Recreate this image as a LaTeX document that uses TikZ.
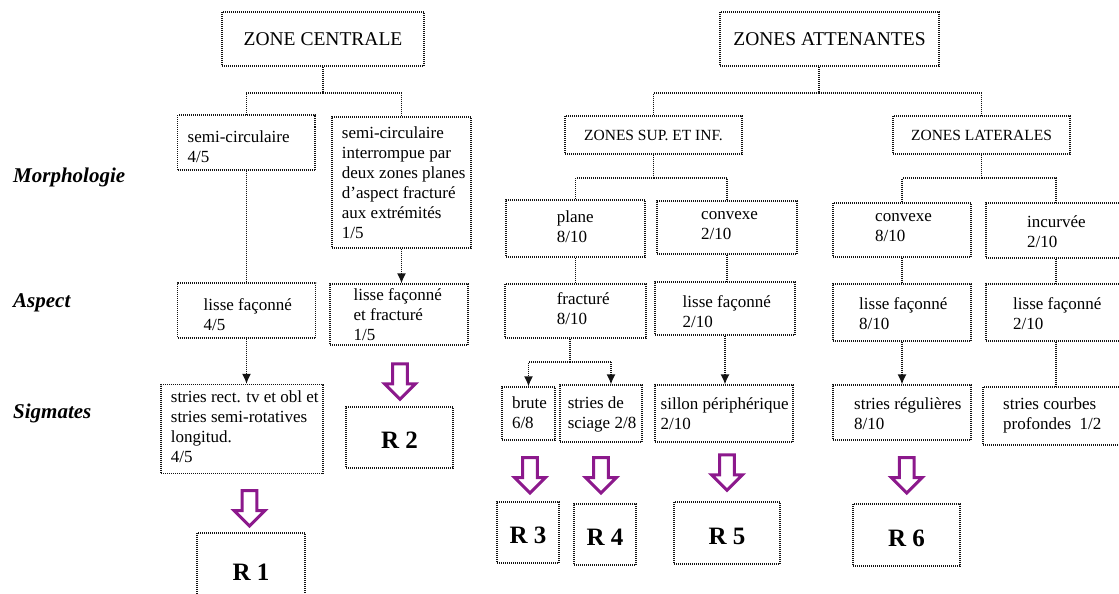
\documentclass[tikz,border=0pt]{standalone}
\usepackage{fontspec}
\setmainfont{Liberation Serif}
\usetikzlibrary{arrows.meta}
\definecolor{ln}{RGB}{20,20,20}
\definecolor{purp}{RGB}{140,25,140}
\newcommand\bx[7][]{\node[box,minimum width={#5-#3},minimum height={#6-#4},#1] (#2) at ({(#3+#5)/2},{(#4+#6)/2}) {#7};}
\begin{document}
\begin{tikzpicture}[x=1pt,y=-1pt,
  box/.style={draw=ln,line width=1.3pt,dash pattern=on 1pt off 1pt,inner sep=0pt},
  txt/.style={inner sep=0pt,anchor=north west,align=left,font=\fontsize{17}{20}\selectfont,execute at begin node={\rule{0pt}{12pt}}},
  hd/.style={font=\fontsize{19.5}{23}\selectfont},
  hds/.style={font=\fontsize{15.5}{19}\selectfont},
  rl/.style={font=\fontsize{25}{30}\selectfont\bfseries,text height=22pt,text depth=0pt},
  lab/.style={inner sep=0pt,anchor=west,font=\fontsize{21}{25}\selectfont\bfseries\itshape},
  conn/.style={draw=ln,line width=1.3pt,dash pattern=on 1pt off 1pt},
  arr/.style={conn,-{Latex[length=10pt,width=9pt]}},
  barrow/.pic={\draw[draw=purp,line width=3pt,fill=white,line join=miter]
     (-7.3,1.5) -- (7.3,1.5) -- (7.3,21.5) -- (15.5,21.5) -- (0,37) -- (-15.5,21.5) -- (-7.3,21.5) -- cycle;}
]
\useasboundingbox (0,0) rectangle (1119,594);
\fill[white] (0,0) rectangle (1119,594);
\clip (0,0) rectangle (1119,594);

% row labels
\node[lab] (morph) at (13,177) {Morphologie};
\node[lab] (asp) at (13,303) {Aspect};
\node[lab] (sig) at (13,413) {Sigmates};

% zone centrale
\bx[hd]{zc}{222}{12}{424}{66}{ZONE CENTRALE}
\bx{sc}{177.5}{115}{315}{170}{}
\bx{sc2}{332}{117}{471}{248}{}
\bx{l45}{177.5}{283}{315.5}{338}{}
\bx{lf}{330}{284}{468}{345}{}
\bx{stries}{161}{384.5}{323}{473.5}{}
\bx[rl]{r1}{197}{533}{305}{605}{R 1}
\bx[rl]{r2}{346}{407}{453}{468}{R 2}

\node[txt] (tsc) at (187.5,131) {semi-circulaire\\4/5};
\node[txt] (tsc2) at (341.7,127) {semi-circulaire\\interrompue par\\deux zones planes\\d'aspect fracturé\\aux extrémités\\1/5};
\node[txt] (tl45) at (203.5,298) {lisse façonné\\4/5};
\node[txt] (tlf) at (353.4,288) {lisse façonné\\et fracturé\\1/5};
\node[txt] (tstries) at (170.7,390.5) {stries rect. tv et obl et\\stries semi-rotatives\\longitud.\\4/5};

% zones attenantes
\bx[hd]{za}{720}{12}{939}{66}{ZONES ATTENANTES}
\bx[hds]{zsup}{565}{116}{742}{154}{ZONES SUP. ET INF.}
\bx[hds]{zlat}{893}{116}{1070}{154}{ZONES LATERALES}
\bx{plane}{506}{200}{645}{257}{}
\bx{conv}{657}{201}{797}{254}{}
\bx{frac}{505}{284}{646}{338}{}
\bx{l210}{655}{282}{795}{335}{}
\bx{convl}{833}{203}{971}{257}{}
\bx{incu}{986}{203}{1126}{258}{}
\bx{l810}{833}{284}{971}{341}{}
\bx{l210b}{986}{284}{1126}{341}{}
\bx{brute}{502}{387}{555}{440}{}
\bx{sciage}{560}{385}{642}{442}{}
\bx{sillon}{655}{385}{793}{442}{}
\bx{sreg}{833}{385}{971}{440}{}
\bx{scourbes}{983}{387}{1129}{445}{}
\bx[rl]{r3}{497}{502}{559}{563}{R 3}
\bx[rl]{r4}{574}{504}{636}{565}{R 4}
\bx[rl]{r5}{674}{502}{780}{564}{R 5}
\bx[rl]{r6}{853}{504}{960}{566}{R 6}

\node[txt] (tplane) at (556.6,211) {plane\\8/10};
\node[txt] (tconv) at (701,211) {convexe\\2/10};
\node[txt] (tfrac) at (556.6,292.7) {fracturé\\8/10};
\node[txt] (tl210) at (682.5,295) {lisse façonné\\2/10};
\node[txt] (tconvl) at (875,213.7) {convexe\\8/10};
\node[txt] (tincu) at (1027,215) {incurvée\\2/10};
\node[txt] (tl810) at (859,297) {lisse façonné\\8/10};
\node[txt] (tl210b) at (1013,297) {lisse façonné\\2/10};
\node[txt] (tbrute) at (511.8,397) {brute\\6/8};
\node[txt] (tsciage) at (567.6,397) {stries de\\sciage 2/8};
\node[txt] (tsillon) at (660.5,397) {sillon périphérique\\2/10};
\node[txt] (tsreg) at (854,397) {stries régulières\\8/10};
\node[txt] (tscourbes) at (1003,398) {stries courbes\\profondes\ \ 1/2};

% connectors, zone centrale
\coordinate (j1) at (323,93);
\draw[conn] (zc) -- (j1);
\draw[conn] (j1) -| (sc);
\draw[conn] (j1) -| (sc2);
\draw[conn] (sc.south) -- (sc.south |- l45.north);
\draw[arr] (l45.south) -- (l45.south |- stries.north);
\draw[arr] (sc2.south) -- (sc2.south |- lf.north);

% connectors, zones attenantes
\coordinate (j2) at (819,93);
\draw[conn] (j2 |- za.south) -- (j2);
\draw[conn] (j2) -| (zsup);
\draw[conn] (j2) -| (zlat);
\coordinate (j3) at (653.5,178);
\draw[conn] (zsup) -- (j3);
\draw[conn] (j3) -| (plane);
\draw[conn] (j3) -| (conv);
\coordinate (j4) at (981.5,178);
\draw[conn] (zlat) -- (j4);
\draw[conn] (j4) -| (convl);
\draw[conn] (j4) -| (incu);
\draw[conn] (plane.south) -- (plane.south |- frac.north);
\draw[conn] (conv.south) -- (conv.south |- l210.north);
\draw[arr] (l210.south) -- (l210.south |- sillon.north);
\coordinate (j5) at (570,362);
\coordinate (j6) at (611,362);
\draw[conn] (frac.south -| j5) -- (j5);
\draw[arr] (j5) -| (brute);
\draw[conn] (j5) -- (j6);
\draw[arr] (j6) -- (j6 |- sciage.north);
\draw[conn] (convl) -- (l810);
\draw[arr] (l810.south) -- (l810.south |- sreg.north);
\draw[conn] (incu) -- (l210b);
\draw[conn] (l210b) -- (scourbes);

% purple block arrows
\pic at (249.5,489) {barrow};
\pic at (400,362.3) {barrow};
\pic at (530,456) {barrow};
\pic at (601,456) {barrow};
\pic at (727,453.3) {barrow};
\pic at (906.7,456) {barrow};
\end{tikzpicture}
\end{document}
